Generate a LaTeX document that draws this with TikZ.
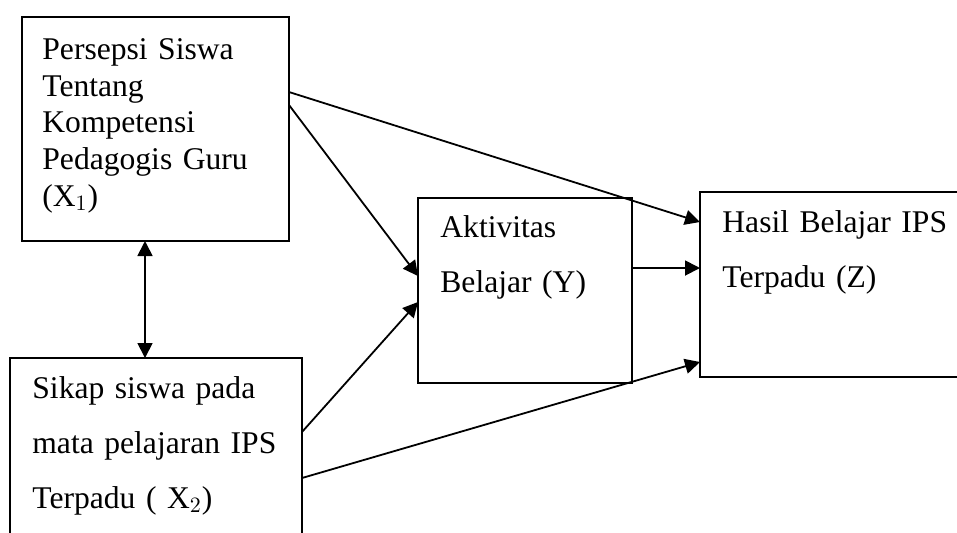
\documentclass[tikz,border=0pt]{standalone}
\usepackage{fontspec}
\setmainfont{Liberation Serif}
\usetikzlibrary{positioning,calc,arrows.meta}

\begin{document}
\begin{tikzpicture}[
    x=0.5pt, y=-0.5pt,
    box/.style={draw, line width=1.2pt, anchor=north west, inner sep=0pt, outer sep=0pt},
    boxtext/.style={anchor=north west, inner sep=0pt, align=left, font=\fontsize{15.8}{27.5}\selectfont},
    link/.style={-{Triangle[length=7.5pt,width=7.5pt]}, line width=0.9pt},
    bothlink/.style={{Triangle[length=7.5pt,width=7.5pt]}-{Triangle[length=7.5pt,width=7.5pt]}, line width=0.9pt}
]
\useasboundingbox (0,0) rectangle (957,532);

% boxes
\node[box, minimum width=133.5pt, minimum height=112pt] (x1) at (22,17) {};
\node[box, minimum width=146pt, minimum height=95pt] (x2) at (10,358) {};
\node[box, minimum width=107pt, minimum height=92.5pt] (y) at (418,198) {};
\node[box, minimum width=140pt, minimum height=92.5pt] (z) at (700,192) {};

% texts
\node[boxtext, text width=115pt, font=\fontsize{15.8}{18.4}\selectfont, below right=10.5pt and 10pt of x1.north west] (x1txt)
    {Persepsi Siswa\\Tentang\\Kompetensi\\Pedagogis Guru\\($\mathrm{X}_1$)};
\node[boxtext, text width=130pt, below right=9pt and 11pt of x2.north west] (x2txt)
    {Sikap siswa pada\\mata pelajaran IPS\\Terpadu ( $\mathrm{X}_2$)};
\node[boxtext, text width=90pt, below right=8.5pt and 11pt of y.north west] (ytxt)
    {Aktivitas\\Belajar (Y)};
\node[boxtext, text width=115pt, below right=9pt and 11pt of z.north west] (ztxt)
    {Hasil Belajar IPS\\Terpadu (Z)};

% connectors
\draw[bothlink] ($(x1.south west)+(123,0)$) -- ($(x2.north west)+(135,0)$);
\draw[link] ($(x1.north east)+(0,75)$) -- ($(z.north west)+(0,30)$);
\draw[link] ($(x1.north east)+(0,88)$) -- ($(y.north west)+(0,78)$);
\draw[link] ($(y.north east)+(0,70)$) -- ($(z.north west)+(0,76)$);
\draw[link] ($(x2.north east)+(0,74)$) -- ($(y.north west)+(0,104)$);
\draw[link] ($(x2.north east)+(0,120)$) -- ($(z.north west)+(0,170)$);

\end{tikzpicture}
\end{document}
